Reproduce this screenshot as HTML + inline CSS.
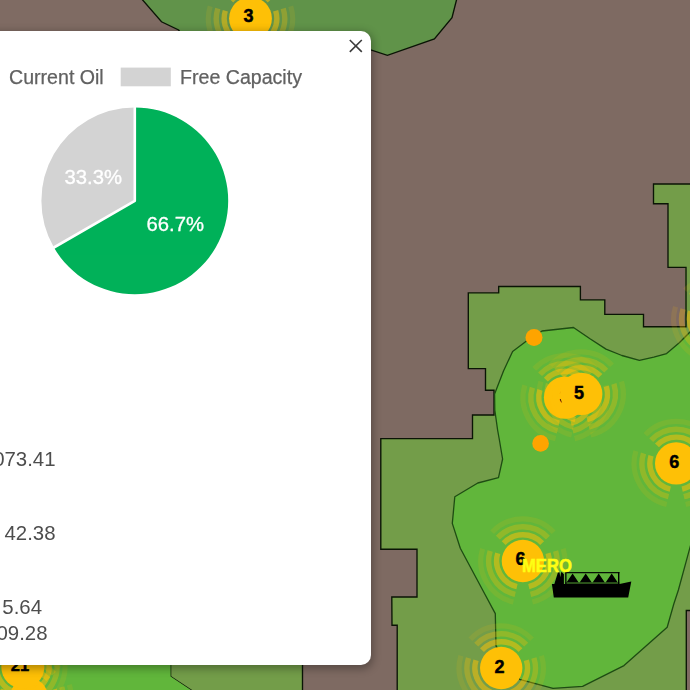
<!DOCTYPE html>
<html><head><meta charset="utf-8"><title>Map</title>
<style>
html,body{margin:0;padding:0;}
body{width:690px;height:690px;overflow:hidden;position:relative;background:#7f6b63;font-family:"Liberation Sans",sans-serif;}
svg text{font-family:"Liberation Sans",sans-serif;}
svg{opacity:0.999;will-change:opacity;}
.popup{position:absolute;left:-60px;top:30.6px;width:430.6px;height:634px;background:#fff;border-radius:10px;box-shadow:0 2.5px 9px 1.2px rgba(0,0,0,0.3);}
</style></head><body>
<svg width="690" height="690" viewBox="0 0 690 690" style="position:absolute;left:0;top:0">
<rect width="690" height="690" fill="#7f6b63"/>
<polygon points="140.9,-2 161.5,21.8 178.6,30 200,60 370,49.6 387.4,55.3 434.4,39 452,17.7 457,-2" fill="#61944a" stroke="#0b1506" stroke-width="1.35" stroke-linejoin="miter"/>
<rect x="685" y="266" width="8" height="62" fill="#749e4a"/>
<polygon points="700,184 653.5,184 653.5,203.7 668,203.7 668,267.4 686,267.4 686,326.7 643.5,326.7 643.5,314.3 604.8,314.3 604.8,299.8 580.4,299.8 580.4,286.5 498.7,286.5 498.7,292.8 468.3,292.8 468.3,368.6 485.5,368.6 485.5,390.2 494,390.2 494,415 472.5,415 472.5,438.6 380.8,438.6 380.8,549.2 417,549.2 417,597 391.8,597 392,625.2 397.2,625.2 397.2,700 686.3,700 686.3,610.5 700,610.5" fill="#749e4a" stroke="#0b1506" stroke-width="1.35" stroke-linejoin="miter"/>
<polygon points="170.6,660 302.5,660 302.5,700 206,700 170.6,676.5" fill="#749e4a" stroke="#0b1506" stroke-width="1.35" stroke-linejoin="miter"/>
<polygon points="-5,660 170.6,660 170.6,676.5 206,700 -5,700" fill="#62b73c" stroke="none"/>
<polygon points="494.6,394 503.5,371 512.6,351.5 526.5,341 542,331 573.5,327.5 590,338.8 606,349.1 621.9,355.5 639.4,360.3 653.8,357.1 666.6,353.6 679.3,342.8 692,330 692,540 678.4,590 673.8,604 667.2,627.2 624,665.6 582.6,686.3 553,688.4 519.6,679.4 496,646 495.3,613.6 482.5,589.7 460.3,548.3 452.3,523.4 454.8,496.7 477.8,483 498.5,477.6 502.6,459 499.4,440 497.6,430 494.8,410" fill="#62b73c" stroke="#1f4d14" stroke-width="1.3" stroke-linejoin="round"/>
<circle cx="534" cy="337.5" r="8.5" fill="#ffa500"/>
<circle cx="540.6" cy="443.4" r="8.3" fill="#ffa500"/>
<g>
<path d="M231.27 0.56A26.3 26.3 0 0 1 269.73 0.56M275.65 10.81A26.3 26.3 0 0 1 256.42 44.13M244.58 44.13A26.3 26.3 0 0 1 225.35 10.81" fill="none" stroke="#ffc107" stroke-width="5.4" stroke-opacity="0.52"/>
<path d="M225.49 -4.82A34.2 34.2 0 0 1 275.51 -4.82M283.21 8.50A34.2 34.2 0 0 1 258.19 51.82M242.81 51.82A34.2 34.2 0 0 1 217.79 8.50" fill="none" stroke="#ffc107" stroke-width="5.4" stroke-opacity="0.3"/>
<path d="M219.71 -10.21A42.1 42.1 0 0 1 281.29 -10.21M290.76 6.19A42.1 42.1 0 0 1 259.97 59.52M241.03 59.52A42.1 42.1 0 0 1 210.24 6.19" fill="none" stroke="#ffc107" stroke-width="5.2" stroke-opacity="0.12"/>
<circle cx="250.5" cy="18.5" r="21.4" fill="#ffc107"/>
<text x="248.6" y="22.14" font-size="18" font-weight="bold" text-anchor="middle" fill="#000" stroke="#000" stroke-width="0.45">3</text>
</g>
<g>
<path d="M696.57 301.06A26.3 26.3 0 0 1 735.03 301.06M740.95 311.31A26.3 26.3 0 0 1 721.72 344.63M709.88 344.63A26.3 26.3 0 0 1 690.65 311.31" fill="none" stroke="#ffc107" stroke-width="5.4" stroke-opacity="0.52"/>
<path d="M690.79 295.68A34.2 34.2 0 0 1 740.81 295.68M748.51 309.00A34.2 34.2 0 0 1 723.49 352.32M708.11 352.32A34.2 34.2 0 0 1 683.09 309.00" fill="none" stroke="#ffc107" stroke-width="5.4" stroke-opacity="0.3"/>
<path d="M685.01 290.29A42.1 42.1 0 0 1 746.59 290.29M756.06 306.69A42.1 42.1 0 0 1 725.27 360.02M706.33 360.02A42.1 42.1 0 0 1 675.54 306.69" fill="none" stroke="#ffc107" stroke-width="5.2" stroke-opacity="0.12"/>
<circle cx="715.8" cy="319" r="21.2" fill="#ffc107"/>
</g>
<g>
<path d="M545.87 379.66A26.3 26.3 0 0 1 584.33 379.66M590.25 389.91A26.3 26.3 0 0 1 571.02 423.23M559.18 423.23A26.3 26.3 0 0 1 539.95 389.91" fill="none" stroke="#ffc107" stroke-width="5.4" stroke-opacity="0.52"/>
<path d="M540.09 374.28A34.2 34.2 0 0 1 590.11 374.28M597.81 387.60A34.2 34.2 0 0 1 572.79 430.92M557.41 430.92A34.2 34.2 0 0 1 532.39 387.60" fill="none" stroke="#ffc107" stroke-width="5.4" stroke-opacity="0.3"/>
<path d="M534.31 368.89A42.1 42.1 0 0 1 595.89 368.89M605.36 385.29A42.1 42.1 0 0 1 574.57 438.62M555.63 438.62A42.1 42.1 0 0 1 524.84 385.29" fill="none" stroke="#ffc107" stroke-width="5.2" stroke-opacity="0.12"/>
<circle cx="565.1" cy="397.6" r="21.2" fill="#ffc107"/>
<text x="564.8" y="402.74" font-size="18" font-weight="bold" text-anchor="middle" fill="#000" stroke="#000" stroke-width="0.45">3</text>
</g>
<g>
<path d="M561.97 375.96A26.3 26.3 0 0 1 600.43 375.96M606.35 386.21A26.3 26.3 0 0 1 587.12 419.53M575.28 419.53A26.3 26.3 0 0 1 556.05 386.21" fill="none" stroke="#ffc107" stroke-width="5.4" stroke-opacity="0.52"/>
<path d="M556.19 370.58A34.2 34.2 0 0 1 606.21 370.58M613.91 383.90A34.2 34.2 0 0 1 588.89 427.22M573.51 427.22A34.2 34.2 0 0 1 548.49 383.90" fill="none" stroke="#ffc107" stroke-width="5.4" stroke-opacity="0.3"/>
<path d="M550.41 365.19A42.1 42.1 0 0 1 611.99 365.19M621.46 381.59A42.1 42.1 0 0 1 590.67 434.92M571.73 434.92A42.1 42.1 0 0 1 540.94 381.59" fill="none" stroke="#ffc107" stroke-width="5.2" stroke-opacity="0.12"/>
<circle cx="581.2" cy="393.9" r="21.2" fill="#ffc107"/>
<text x="578.9" y="399.04" font-size="18" font-weight="bold" text-anchor="middle" fill="#000" stroke="#000" stroke-width="0.45">5</text>
</g>
<g>
<path d="M656.97 445.46A26.3 26.3 0 0 1 695.43 445.46M701.35 455.71A26.3 26.3 0 0 1 682.12 489.03M670.28 489.03A26.3 26.3 0 0 1 651.05 455.71" fill="none" stroke="#ffc107" stroke-width="5.4" stroke-opacity="0.52"/>
<path d="M651.19 440.08A34.2 34.2 0 0 1 701.21 440.08M708.91 453.40A34.2 34.2 0 0 1 683.89 496.72M668.51 496.72A34.2 34.2 0 0 1 643.49 453.40" fill="none" stroke="#ffc107" stroke-width="5.4" stroke-opacity="0.3"/>
<path d="M645.41 434.69A42.1 42.1 0 0 1 706.99 434.69M716.46 451.09A42.1 42.1 0 0 1 685.67 504.42M666.73 504.42A42.1 42.1 0 0 1 635.94 451.09" fill="none" stroke="#ffc107" stroke-width="5.2" stroke-opacity="0.12"/>
<circle cx="676.2" cy="463.4" r="21.2" fill="#ffc107"/>
<text x="674.3" y="467.84" font-size="18" font-weight="bold" text-anchor="middle" fill="#000" stroke="#000" stroke-width="0.45">6</text>
</g>
<g>
<path d="M503.67 543.06A26.3 26.3 0 0 1 542.13 543.06M548.05 553.31A26.3 26.3 0 0 1 528.82 586.63M516.98 586.63A26.3 26.3 0 0 1 497.75 553.31" fill="none" stroke="#ffc107" stroke-width="5.4" stroke-opacity="0.52"/>
<path d="M497.89 537.68A34.2 34.2 0 0 1 547.91 537.68M555.61 551.00A34.2 34.2 0 0 1 530.59 594.32M515.21 594.32A34.2 34.2 0 0 1 490.19 551.00" fill="none" stroke="#ffc107" stroke-width="5.4" stroke-opacity="0.3"/>
<path d="M492.11 532.29A42.1 42.1 0 0 1 553.69 532.29M563.16 548.69A42.1 42.1 0 0 1 532.37 602.02M513.43 602.02A42.1 42.1 0 0 1 482.64 548.69" fill="none" stroke="#ffc107" stroke-width="5.2" stroke-opacity="0.12"/>
<circle cx="522.9" cy="561" r="21.2" fill="#ffc107"/>
<text x="520.5" y="564.94" font-size="18" font-weight="bold" text-anchor="middle" fill="#000" stroke="#000" stroke-width="0.45">6</text>
</g>
<g>
<path d="M481.97 650.06A26.3 26.3 0 0 1 520.43 650.06M526.35 660.31A26.3 26.3 0 0 1 507.12 693.63M495.28 693.63A26.3 26.3 0 0 1 476.05 660.31" fill="none" stroke="#ffc107" stroke-width="5.4" stroke-opacity="0.52"/>
<path d="M476.19 644.68A34.2 34.2 0 0 1 526.21 644.68M533.91 658.00A34.2 34.2 0 0 1 508.89 701.32M493.51 701.32A34.2 34.2 0 0 1 468.49 658.00" fill="none" stroke="#ffc107" stroke-width="5.4" stroke-opacity="0.3"/>
<path d="M470.41 639.29A42.1 42.1 0 0 1 531.99 639.29M541.46 655.69A42.1 42.1 0 0 1 510.67 709.02M491.73 709.02A42.1 42.1 0 0 1 460.94 655.69" fill="none" stroke="#ffc107" stroke-width="5.2" stroke-opacity="0.12"/>
<circle cx="501.2" cy="668" r="21.2" fill="#ffc107"/>
<text x="499.4" y="672.94" font-size="18" font-weight="bold" text-anchor="middle" fill="#000" stroke="#000" stroke-width="0.45">2</text>
</g>
<g>
<path d="M9.77 679.06A26.3 26.3 0 0 1 48.23 679.06M54.15 689.31A26.3 26.3 0 0 1 34.92 722.63M23.08 722.63A26.3 26.3 0 0 1 3.85 689.31" fill="none" stroke="#ffc107" stroke-width="5.4" stroke-opacity="0.52"/>
<path d="M3.99 673.68A34.2 34.2 0 0 1 54.01 673.68M61.71 687.00A34.2 34.2 0 0 1 36.69 730.32M21.31 730.32A34.2 34.2 0 0 1 -3.71 687.00" fill="none" stroke="#ffc107" stroke-width="5.4" stroke-opacity="0.3"/>
<path d="M-1.79 668.29A42.1 42.1 0 0 1 59.79 668.29M69.26 684.69A42.1 42.1 0 0 1 38.47 738.02M19.53 738.02A42.1 42.1 0 0 1 -11.26 684.69" fill="none" stroke="#ffc107" stroke-width="5.2" stroke-opacity="0.12"/>
<circle cx="29" cy="697" r="19" fill="#ffc107"/>
</g>
<g>
<path d="M3.57 649.06A26.3 26.3 0 0 1 42.03 649.06M47.95 659.31A26.3 26.3 0 0 1 28.72 692.63M16.88 692.63A26.3 26.3 0 0 1 -2.35 659.31" fill="none" stroke="#ffc107" stroke-width="5.4" stroke-opacity="0.52"/>
<path d="M-2.21 643.68A34.2 34.2 0 0 1 47.81 643.68M55.51 657.00A34.2 34.2 0 0 1 30.49 700.32M15.11 700.32A34.2 34.2 0 0 1 -9.91 657.00" fill="none" stroke="#ffc107" stroke-width="5.4" stroke-opacity="0.3"/>
<path d="M-7.99 638.29A42.1 42.1 0 0 1 53.59 638.29M63.06 654.69A42.1 42.1 0 0 1 32.27 708.02M13.33 708.02A42.1 42.1 0 0 1 -17.46 654.69" fill="none" stroke="#ffc107" stroke-width="5.2" stroke-opacity="0.12"/>
<circle cx="22.8" cy="667" r="21.5" fill="#ffc107"/>
<text x="20" y="671.41" font-size="16.5" font-weight="bold" text-anchor="middle" fill="#000" stroke="#000" stroke-width="0.45">21</text>
</g>

<g fill="#000">
<path d="M551.9 584 L619.6 584 L631.3 581.6 L628.2 597.4 L553.8 597.4 Z"/>
<path d="M558 572.2 L559.5 572.2 L560.3 577.2 L561.1 572.2 L562 572.2 L563.9 574.3 L563.9 584.5 L554.2 584.5 Z"/>
<path d="M565.2 571.9 H619.4 V573.3 H565.2 Z" fill-opacity="0.9"/>
<path d="M565.2 571.9 H566.5 V584.5 H565.2 Z M618 571.9 H619.4 V584.5 H618 Z"/>
<path d="M565.2 582.2 H619.4 V584.5 H565.2 Z" fill-opacity="0.55"/>
<path d="M566.7 582.2 L572.6 573.6 L578.5 582.2 Z M579.8 582.2 L585.7 573.6 L591.6 582.2 Z M592.8 582.2 L598.7 573.6 L604.6 582.2 Z M605.8 582.2 L611.7 573.6 L617.6 582.2 Z"/>
</g>
<text x="522" y="571.6" font-size="17.6" font-weight="bold" fill="#ffff14" stroke="#ffff14" stroke-width="0.5" textLength="49.8" lengthAdjust="spacingAndGlyphs">MERO</text>
</svg>
<div class="popup"></div>
<svg width="690" height="690" viewBox="0 0 690 690" style="position:absolute;left:0;top:0">
<path d="M134.8 200.8 L134.80 107.40 A93.4 93.4 0 1 1 53.91 247.50 Z" fill="#00b159"/>
<path d="M134.8 200.8 L53.91 247.50 A93.4 93.4 0 0 1 134.80 107.40 Z" fill="#d3d3d3"/>
<path d="M134.80 106.40 L134.8 200.8 L53.01 248.00" fill="none" stroke="#fff" stroke-width="2.6" stroke-linejoin="round"/>
<text x="175.2" y="231" font-size="20.3" text-anchor="middle" fill="#fff" stroke="#fff" stroke-width="0.3">66.7%</text>
<text x="93.3" y="184" font-size="20.3" text-anchor="middle" fill="#fff" stroke="#fff" stroke-width="0.3">33.3%</text>
<rect x="120.7" y="67.6" width="50.1" height="18.7" fill="#d3d3d3"/>
<text x="9" y="83.5" font-size="19.6" fill="#616161" stroke="#616161" stroke-width="0.25">Current Oil</text>
<text x="180" y="83.5" font-size="19.6" fill="#616161" stroke="#616161" stroke-width="0.25">Free Capacity</text>
<path d="M349.8 40 L361.8 51.9 M361.8 40 L349.8 51.9" stroke="#3c3c3c" stroke-width="1.6" fill="none"/>
<g font-size="20.4" fill="#4d4d4d">
<text x="55.5" y="466.2" text-anchor="end">073.41</text>
<text x="55.5" y="540.2" text-anchor="end">42.38</text>
<text x="42" y="614" text-anchor="end">5.64</text>
<text x="47.5" y="640" text-anchor="end">09.28</text>
</g>
</svg>
</body></html>
